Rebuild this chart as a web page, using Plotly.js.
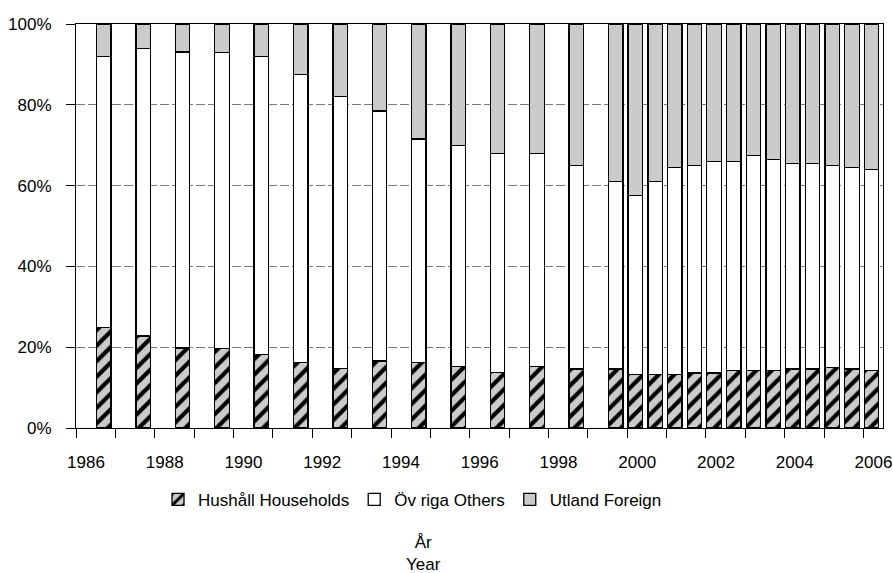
<!DOCTYPE html>
<html>
<head>
<meta charset="utf-8">
<script src="https://cdn.plot.ly/plotly-3.0.1.min.js"></script>
<style>html,body{margin:0;padding:0;background:#fff;}#chart{width:893px;height:573px;}</style>
</head>
<body>
<div id="chart"></div>
<script>
// Observation dates (month of reading)
const periods = [
  '1986-09','1987-09','1988-09','1989-09','1990-09','1991-09','1992-09',
  '1993-09','1994-09','1995-09','1996-09','1997-09','1998-09',
  '1999-09','2000-03','2000-09','2001-03','2001-09','2002-03','2002-09',
  '2003-03','2003-09','2004-03','2004-09','2005-03','2005-09','2006-03'
];
// Shares in percent
const hushall = [24.8,22.8,19.8,19.6,18.2,16.2,14.8,16.6,16.2,15.2,13.8,15.2,14.6,
                 14.6,13.2,13.2,13.2,13.6,13.6,14.2,14.2,14.2,14.6,14.6,15.0,14.6,14.2];
const ovriga  = [67.2,71.1,73.3,73.4,73.8,71.3,67.2,61.9,55.3,54.8,54.2,52.8,50.4,
                 46.4,44.3,47.8,51.3,51.4,52.4,51.8,53.3,52.3,50.9,50.9,50.0,49.9,49.8];
const utland  = [8.0,6.1,6.9,7.0,8.0,12.5,18.0,21.5,28.5,30.0,32.0,32.0,35.0,
                 39.0,42.5,39.0,35.5,35.0,34.0,34.0,32.5,33.5,34.5,34.5,35.0,35.5,36.0];
const seriesNames = ['Hushåll Households','Öv riga Others','Utland Foreign'];
const yTicks = [0,20,40,60,80,100];

const barWidth = 134*24*3600*1000;
const common = {
  type:'bar', x: periods, xperiod:'M1', xperiodalignment:'middle',
  width: barWidth, hoverinfo:'skip'
};
const traces = [
  Object.assign({}, common, {y: hushall, name: seriesNames[0],
    marker:{color:'#cbcbcb', line:{color:'#000', width:1.3},
      pattern:{shape:'/', fgcolor:'#000', bgcolor:'#cbcbcb', size:11, solidity:0.38}}}),
  Object.assign({}, common, {y: ovriga, name: seriesNames[1],
    marker:{color:'#ffffff', line:{color:'#000', width:1.3}}}),
  Object.assign({}, common, {y: utland, name: seriesNames[2],
    marker:{color:'#cbcbcb', line:{color:'#000', width:1.3}}})
];

const font = {family:'"Liberation Sans", Arial, sans-serif', size:17, color:'#000'};
const layout = {
  width:893, height:573,
  margin:{l:76, r:10, t:24, b:145},
  paper_bgcolor:'#fff', plot_bgcolor:'#fff',
  font: font,
  barmode:'stack', bargap:0,
  showlegend:true,
  legend:{orientation:'h', x:0.417, xanchor:'center', y:-0.178, yanchor:'middle',
    font:font, traceorder:'normal', itemwidth:30, bgcolor:'rgba(0,0,0,0)'},
  xaxis:{type:'date', range:['1986-01-01','2006-07-01'], tick0:'1986-01-01', dtick:'M24',
    tickformat:'%Y', ticks:'outside', ticklen:9, tickcolor:'#000', tickwidth:1,
    ticklabelshift:10, ticklabelstandoff:10,
    minor:{dtick:'M12', tick0:'1986-01-01', ticks:'outside', ticklen:9, tickcolor:'#000', tickwidth:1, showgrid:false},
    showline:true, linecolor:'#000', linewidth:1, mirror:true,
    showgrid:false, zeroline:false, fixedrange:true},
  yaxis:{range:[0,100], tickvals:yTicks, ticktext:yTicks.map(v=>v+'%'),
    ticks:'outside', ticklen:9, tickcolor:'#000', tickwidth:1, ticklabelstandoff:11,
    showline:true, linecolor:'#000', linewidth:1, mirror:true,
    showgrid:true, gridcolor:'#7a7a7a', gridwidth:1, griddash:'9px,3px',
    zeroline:false, fixedrange:true},
  annotations:[{text:'År<br>Year', xref:'paper', yref:'paper', x:0.43, y:-0.255,
    xanchor:'center', yanchor:'top', showarrow:false, font:font, align:'center'}]
};
Plotly.newPlot('chart', traces, layout, {staticPlot:true});
</script>
</body>
</html>
